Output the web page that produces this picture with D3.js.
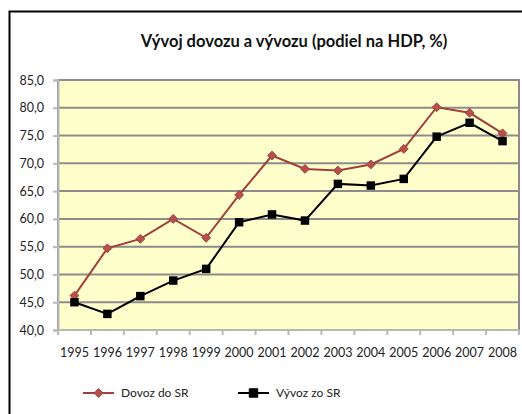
<!DOCTYPE html>
<html>
<head>
<meta charset="utf-8">
<script src="https://cdn.jsdelivr.net/npm/d3@7"></script>
<style>
  body { margin: 0; background: #fff; }
  svg { display: block; font-family: Lato, "Open Sans", sans-serif; }
</style>
</head>
<body>
<div id="chart"></div>
<script>
const years = ['1995','1996','1997','1998','1999','2000','2001','2002','2003','2004','2005','2006','2007','2008'];
const dovoz = [46.2, 54.7, 56.4, 60.0, 56.6, 64.3, 71.4, 69.0, 68.7, 69.8, 72.6, 80.1, 79.1, 75.4];
const vyvoz = [45.0, 42.9, 46.1, 48.9, 51.0, 59.4, 60.8, 59.7, 66.3, 66.0, 67.2, 74.8, 77.3, 74.0];
const yTicks = [40, 45, 50, 55, 60, 65, 70, 75, 80, 85];

const width = 522;
const height = 414;
const plot = { left: 58, top: 80, right: 519, bottom: 330 };

const svg = d3.select('#chart')
              .append('svg')
              .attr('width', width)
              .attr('height', height);

// outer chart frame (runs off the right and bottom edges)
svg.append('rect')
   .attr('x', 9.5).attr('y', 11.5)
   .attr('width', 540).attr('height', 430)
   .attr('fill', '#fff')
   .attr('stroke', '#000')
   .attr('stroke-width', 2);

svg.append('text')
   .attr('x', 294).attr('y', 47)
   .attr('text-anchor', 'middle')
   .style('font-size', '16.5px')
   .style('font-weight', 'bold')
   .style('fill', '#111')
   .text('Vývoj dovozu a vývozu (podiel na HDP, %)');

const x = d3.scaleBand()
            .domain(years)
            .range([plot.left, plot.right]);

const y = d3.scaleLinear()
            .domain([40, 85])
            .range([plot.bottom, plot.top]);

svg.append('rect')
   .attr('x', plot.left).attr('y', plot.top)
   .attr('width', plot.right - plot.left)
   .attr('height', plot.bottom - plot.top)
   .attr('fill', '#ffffcc');

// gridlines
svg.append('g')
   .selectAll('line')
   .data(yTicks.slice(1))
   .enter()
   .append('line')
   .attr('x1', plot.left).attr('x2', plot.right)
   .attr('y1', (d) => y(d)).attr('y2', (d) => y(d))
   .attr('stroke', '#8c8c8c')
   .attr('stroke-width', 2);

svg.append('rect')
   .attr('x', plot.left).attr('y', plot.top)
   .attr('width', plot.right - plot.left)
   .attr('height', plot.bottom - plot.top)
   .attr('fill', 'none')
   .attr('stroke', '#8c8c8c')
   .attr('stroke-width', 2);

// y axis
const yAxis = svg.append('g')
                 .attr('transform', 'translate(' + plot.left + ',0)')
                 .call(d3.axisLeft(y)
                         .tickValues(yTicks)
                         .tickSize(5)
                         .tickPadding(9)
                         .tickFormat((d) => d3.format('.1f')(d).replace('.', ',')));
yAxis.select('.domain').attr('stroke', '#b8b8b8').attr('stroke-width', 2);
yAxis.selectAll('.tick line').attr('stroke', '#b8b8b8').attr('stroke-width', 2);
yAxis.selectAll('.tick text')
     .style('font-size', '12.5px')
     .style('font-family', 'Lato, sans-serif')
     .attr('fill', '#222');

// x axis: ticks at category boundaries, labels centred
const xAxis = svg.append('g')
                 .attr('transform', 'translate(0,' + plot.bottom + ')');
xAxis.append('line')
     .attr('x1', plot.left).attr('x2', plot.right)
     .attr('stroke', '#b8b8b8').attr('stroke-width', 2);
xAxis.selectAll('line.tk')
     .data(years.concat(['end']))
     .enter()
     .append('line')
     .attr('class', 'tk')
     .attr('x1', (d, i) => plot.left + i * x.bandwidth())
     .attr('x2', (d, i) => plot.left + i * x.bandwidth())
     .attr('y1', 0).attr('y2', 5)
     .attr('stroke', '#b8b8b8').attr('stroke-width', 2);
xAxis.selectAll('text')
     .data(years)
     .enter()
     .append('text')
     .attr('x', (d) => x(d) + x.bandwidth() / 2)
     .attr('y', 27)
     .attr('text-anchor', 'middle')
     .style('font-size', '12.5px')
     .attr('fill', '#222')
     .text((d) => d);

const line = d3.line()
               .x((d, i) => x(years[i]) + x.bandwidth() / 2)
               .y((d) => y(d));

const red = '#a0403d';
const diamond = d3.symbol().type(d3.symbolDiamond2).size(50);
const square = d3.symbol().type(d3.symbolSquare).size(72);

svg.append('path')
   .datum(dovoz)
   .attr('d', line)
   .attr('fill', 'none')
   .attr('stroke', red)
   .attr('stroke-width', 2);
svg.append('g')
   .selectAll('path')
   .data(dovoz)
   .enter()
   .append('path')
   .attr('d', diamond)
   .attr('transform', (d, i) => 'translate(' + (x(years[i]) + x.bandwidth() / 2) + ',' + y(d) + ')')
   .attr('fill', '#b5504d')
   .attr('stroke', red)
   .attr('stroke-width', 1);

svg.append('path')
   .datum(vyvoz)
   .attr('d', line)
   .attr('fill', 'none')
   .attr('stroke', '#000')
   .attr('stroke-width', 2);
svg.append('g')
   .selectAll('path')
   .data(vyvoz)
   .enter()
   .append('path')
   .attr('d', square)
   .attr('transform', (d, i) => 'translate(' + (x(years[i]) + x.bandwidth() / 2) + ',' + y(d) + ')')
   .attr('fill', '#000');

// legend
const legendItems = [
  { name: 'Dovoz do SR', color: red, fill: '#b5504d', sym: diamond, x: 83 },
  { name: 'Vývoz zo SR', color: '#000', fill: '#000', sym: square, x: 238 }
];
const legend = svg.append('g')
                  .selectAll('g')
                  .data(legendItems)
                  .enter()
                  .append('g')
                  .attr('transform', (d) => 'translate(' + d.x + ',393)');
legend.append('line')
      .attr('x1', 0).attr('x2', 31)
      .attr('stroke', (d) => d.color)
      .attr('stroke-width', 2);
legend.append('path')
      .attr('d', (d) => d.sym())
      .attr('transform', 'translate(15.5,0)')
      .attr('fill', (d) => d.fill)
      .attr('stroke', (d) => d.color);
legend.append('text')
      .attr('x', 38)
      .attr('y', 4)
      .style('font-size', '12px')
      .attr('fill', '#222')
      .text((d) => d.name);
</script>
</body>
</html>
